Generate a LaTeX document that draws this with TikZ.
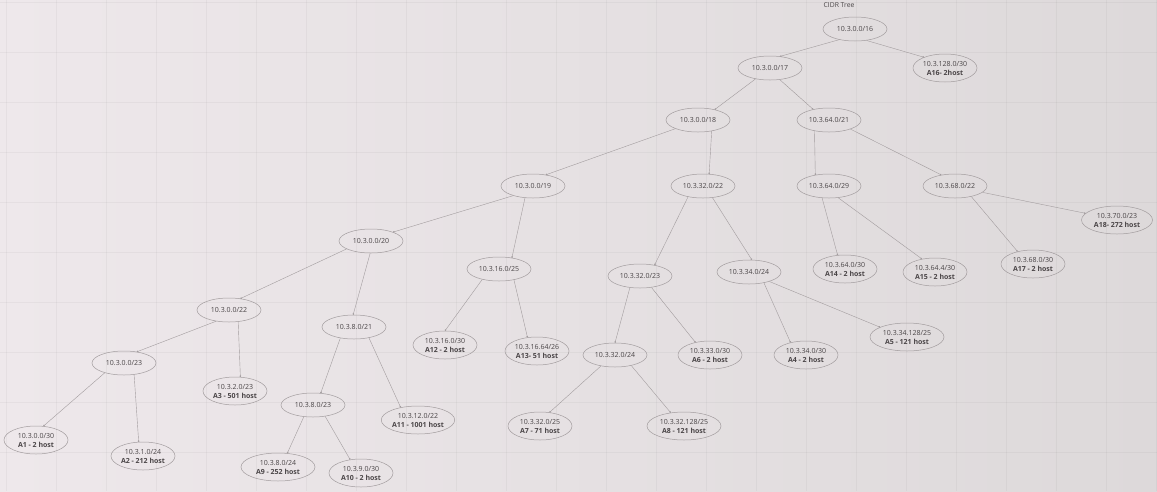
\documentclass[tikz,border=0pt]{standalone}
\usepackage{fontspec}
\setmainfont{Open Sans}
\usepackage{xcolor}
\usepackage{tikz}
\usetikzlibrary{arrows.meta}
\usetikzlibrary{shapes.geometric}
\definecolor{bgleft}{HTML}{EEE8EB}
\definecolor{bgright}{HTML}{DDD9DA}
\definecolor{linecol}{HTML}{A29C9E}
\definecolor{txtcol}{HTML}{4A4547}
\tikzset{
  net/.style={ellipse, draw=linecol, line width=0.5pt, inner sep=0pt,
    minimum width=64pt, minimum height=24pt, text=txtcol,
    font=\fontsize{7}{9}\selectfont},
  host/.style={net, minimum height=28pt, align=center},
  link/.style={-{Circle[length=1.6pt]}, draw=linecol, line width=0.4pt},
  gridline/.style={draw=black, opacity=0.035, line width=0.5pt},
}
\newcommand{\hostlbl}[2]{#1\\\textbf{#2}}
\begin{document}
\begin{tikzpicture}[x=1pt, y=-1pt]
\useasboundingbox (0,0) rectangle (1157,491);
\fill [left color=bgleft, right color=bgright] (0,0) rectangle (1157,491);
\foreach \gx in {6,56,...,1156} \draw [gridline] (\gx,0) -- (\gx,491);
\foreach \gy in {2,52,...,491} \draw [gridline] (0,\gy) -- (1157,\gy);

\node [text=txtcol, font=\fontsize{6.8}{8}\selectfont] (title) at (839, 5) {CIDR Tree};

\node [net] (n16) at (855, 29) {10.3.0.0/16};
\node [host] (a16) at (945, 68) {\hostlbl{10.3.128.0/30}{A16- 2host}};
\node [net] (n17) at (770, 68) {10.3.0.0/17};
\node [net] (n18) at (698, 120) {10.3.0.0/18};
\node [net] (n21a) at (829, 120) {10.3.64.0/21};
\node [net] (n19) at (533, 186) {10.3.0.0/19};
\node [net] (n22b) at (703, 186) {10.3.32.0/22};
\node [net] (n29) at (829, 186) {10.3.64.0/29};
\node [net] (n22c) at (955, 186) {10.3.68.0/22};
\node [host, minimum width=71pt] (a18) at (1117, 220) {\hostlbl{10.3.70.0/23}{A18- 272 host}};
\node [net] (n20) at (371, 241) {10.3.0.0/20};
\node [net] (n25) at (499, 269) {10.3.16.0/25};
\node [net] (n23b) at (640, 276) {10.3.32.0/23};
\node [net] (n24b) at (749, 272) {10.3.34.0/24};
\node [host] (a14) at (845, 269) {\hostlbl{10.3.64.0/30}{A14 - 2 host}};
\node [host] (a15) at (935, 272) {\hostlbl{10.3.64.4/30}{A15 - 2 host}};
\node [host] (a17) at (1033, 264) {\hostlbl{10.3.68.0/30}{A17 - 2 host}};
\node [net] (n22a) at (229, 310) {10.3.0.0/22};
\node [net] (n21b) at (354, 327) {10.3.8.0/21};
\node [host] (a12) at (445, 345) {\hostlbl{10.3.16.0/30}{A12 - 2 host}};
\node [host] (a13) at (537, 351) {\hostlbl{10.3.16.64/26}{A13- 51 host}};
\node [net] (n24c) at (615, 355) {10.3.32.0/24};
\node [host] (a6) at (710, 355) {\hostlbl{10.3.33.0/30}{A6 - 2 host}};
\node [host] (a4) at (806, 355) {\hostlbl{10.3.34.0/30}{A4 - 2 host}};
\node [host, minimum width=74pt] (a5) at (907, 337) {\hostlbl{10.3.34.128/25}{A5 - 121 host}};
\node [net] (n23a) at (124, 363) {10.3.0.0/23};
\node [host] (a3) at (235, 391) {\hostlbl{10.3.2.0/23}{A3 - 501 host}};
\node [net] (n23c) at (313, 405) {10.3.8.0/23};
\node [host] (a11) at (418, 420) {\hostlbl{10.3.12.0/22}{A11 - 1001 host}};
\node [host] (a1) at (36, 440) {\hostlbl{10.3.0.0/30}{A1 - 2 host}};
\node [host] (a2) at (143, 456) {\hostlbl{10.3.1.0/24}{A2 - 212 host}};
\node [host] (a7) at (540, 426) {\hostlbl{10.3.32.0/25}{A7 - 71 host}};
\node [host, minimum width=74pt] (a8) at (684, 426) {\hostlbl{10.3.32.128/25}{A8 - 121 host}};
\node [host, minimum width=74pt] (a9) at (278, 467) {\hostlbl{10.3.8.0/24}{A9 - 252 host}};
\node [host] (a10) at (361, 473) {\hostlbl{10.3.9.0/30}{A10 - 2 host}};

\draw [link] (n16.214) to (n17.49);
\draw [link] (n16.315) to (a16.153);
\draw [link] (n17.217) to (n18.32);
\draw [link] (n17.310) to (n21a.146);
\draw [link] (n18.201) to (n19.41);
\draw [link] (n18.321) to (n22b.63);
\draw [link] (n21a.217) to (n29.141);
\draw [link] (n21a.337) to (n22c.141);
\draw [link] (n19.206) to (n20.22);
\draw [link] (n19.236) to (n25.41);
\draw [link] (n22b.216) to (n23b.37);
\draw [link] (n22b.309) to (n24b.77);
\draw [link] (n29.240) to (a14.118);
\draw [link] (n29.308) to (a15.135);
\draw [link] (n22c.327) to (a17.141);
\draw [link] (n22c.347) to (a18.168);
\draw [link] (n20.198) to (n22a.45);
\draw [link] (n20.266) to (n21b.94);
\draw [link] (n25.212) to (a12.90);
\draw [link] (n25.324) to (a13.125);
\draw [link] (n23b.229) to (n24c.90);
\draw [link] (n23b.315) to (a6.139);
\draw [link] (n24b.324) to (a4.141);
\draw [link] (n24b.335) to (a5.160);
\draw [link] (n22a.221) to (n23a.41);
\draw [link] (n22a.308) to (a3.69);
\draw [link] (n21b.219) to (n23c.57);
\draw [link] (n21b.324) to (a11.144);
\draw [link] (n24c.218) to (a7.55);
\draw [link] (n24c.327) to (a8.135);
\draw [link] (n23a.207) to (a1.62);
\draw [link] (n23a.311) to (a2.107);
\draw [link] (n23c.232) to (a9.56);
\draw [link] (n23c.317) to (a10.129);
\end{tikzpicture}
\end{document}
